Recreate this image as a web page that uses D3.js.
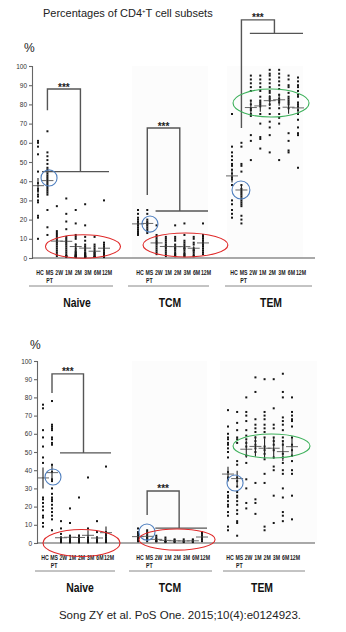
<!DOCTYPE html>
<html>
<head>
<meta charset="utf-8">
<script src="https://cdn.jsdelivr.net/npm/d3@7"></script>
<style>
  body { margin: 0; background: #fff; }
  svg { display: block; }
  text { font-family: "Liberation Sans", Arial, sans-serif; }
</style>
</head>
<body>
<svg width="346" height="632"></svg>
<script>
var groups = ["HC", "MS", "2W", "1M", "2M", "3M", "6M", "12M"];
var subsets = ["Naive", "TCM", "TEM"];
var yTicks = [0, 10, 20, 30, 40, 50, 60, 70, 80, 90, 100];

// cohort 1 (upper plot), % of CD4+ T cells, one array per group
var naiveA = [
  [61, 60, 58, 54, 45, 39, 36, 35, 33, 32, 30, 29, 22, 21, 10],
  [66, 55, 53, 51, 49, 47, 46, 45, 44, 43, 42, 41, 40, 39, 38, 37, 36, 35, 34, 33, 25, 16, 12],
  [27, 14, 13, 12, 11, 10, 9, 8, 7, 6, 5, 4, 3, 2, 1],
  [31, 23, 19, 15, 11, 10, 9, 8, 7, 6, 5, 4, 3, 2, 1, 1, 1, 0.5],
  [25, 18, 12, 11, 10, 7, 5, 4, 3, 3, 2, 2, 1.5, 1, 1, 1, 0.5, 0.5],
  [28, 17, 11, 9, 7, 6, 5, 4, 3, 2, 2, 1, 1, 0.5, 0.5, 1, 0.5, 1.5, 2.5, 0.5],
  [11, 7, 6, 5, 4, 3, 3, 2, 2, 1, 1, 0.5, 0.5],
  [30, 8, 7, 6, 5, 4, 3, 2, 2, 1, 1, 0.5, 0.5, 1.5]
];
var tcmA = [
  [25, 23, 21, 20, 19, 18, 18, 17, 16, 15, 14, 13, 12],
  [25, 23, 20, 19, 18, 18, 17, 16, 15, 14, 13],
  [17, 12, 11, 10, 9, 8, 8, 7, 6, 5, 4, 3, 2],
  [11, 10, 9, 8, 7, 6, 6, 5, 4, 3, 2, 1],
  [17, 11, 10, 9, 7, 6, 5, 5, 4, 3, 2, 2, 1, 1],
  [18, 12, 9, 8, 7, 6, 5, 5, 4, 3, 2, 2, 1, 1],
  [11, 10, 8, 7, 5, 4, 4, 3, 2, 1, 1],
  [18, 12, 11, 10, 9, 8, 7, 7, 6, 5, 4, 3, 2]
];
var temA = [
  [75, 58, 55, 53, 51, 49, 48, 46, 44, 42, 41, 38, 30, 28, 25, 23, 21],
  [60, 58, 49, 48, 45, 38, 36, 35, 34, 33, 32, 31, 30, 29, 28, 27, 22, 20, 18],
  [95, 93, 91, 89, 87, 82, 80, 78, 77, 75, 74, 64, 61, 51],
  [95, 93, 91, 89, 87, 84, 82, 81, 80, 79, 75, 70, 63, 62, 57],
  [98, 96, 95, 93, 91, 89, 87, 86, 84, 83, 82, 80, 78, 75, 71, 68, 64, 55],
  [98, 96, 94, 92, 90, 88, 85, 83, 82, 81, 78, 75, 73, 70, 51],
  [95, 93, 90, 89, 86, 84, 83, 82, 81, 80, 78, 65, 61, 56, 55],
  [94, 92, 90, 89, 87, 85, 84, 81, 80, 79, 77, 75, 72, 68, 65, 64, 47]
];

// cohort 2 (lower plot)
var naiveB = [
  [76, 74, 62, 58, 53, 47, 44, 25, 24, 22, 20, 18, 15, 14, 11, 9],
  [78, 65, 64, 63, 62, 58, 57, 55, 54, 43, 39, 35, 34, 30, 27, 25, 24, 23, 21, 19, 17, 15, 13, 7],
  [12, 8, 5, 3, 2, 2, 1, 1, 1, 1, 0.5, 0.5, 0.5],
  [19, 11, 4, 3, 2, 2, 1, 1, 1, 1, 0.5, 0.5, 0.5, 0.5, 0.5],
  [25, 4, 3, 2, 2, 1, 1, 1, 1, 0.5, 0.5, 0.5, 0.5, 0.5],
  [36, 8, 3, 2, 1, 1, 1, 0.5, 0.5, 0.5, 0.5, 0.5, 0.5],
  [12, 6, 3, 2, 1, 1, 1, 0.5, 0.5, 0.5],
  [42, 6, 5, 4, 3, 2, 2, 1, 1, 1, 0.5, 0.5]
];
var tcmB = [
  [8, 6, 5, 4, 3, 3, 2, 2, 1, 1],
  [7, 6, 5, 4, 3, 3, 2, 2, 1],
  [4, 3, 2, 2, 1, 1, 1],
  [3, 2, 1, 1, 1, 0.5],
  [2, 1.5, 1, 1, 0.5],
  [2, 1, 1, 0.5],
  [2, 1.5, 1, 1, 0.5],
  [6, 5, 4, 3, 2, 2, 1]
];
var temB = [
  [73, 64, 60, 58, 57, 55, 54, 52, 50, 47, 39, 36, 35, 28, 26, 25, 23, 21, 20, 17, 15, 9, 7],
  [72, 66, 62, 58, 57, 55, 45, 43, 36, 34, 31, 28, 26, 25, 23, 21, 18, 16, 12, 11, 4],
  [80, 72, 70, 67, 62, 59, 57, 55, 53, 48, 44, 35, 30, 22, 19],
  [91, 83, 68, 65, 63, 61, 58, 56, 54, 52, 50, 33, 24, 22, 16],
  [90, 72, 70, 68, 65, 63, 61, 58, 53, 51, 49, 46, 38, 33, 9, 7],
  [90, 74, 65, 63, 58, 56, 54, 51, 47, 42, 40, 26, 11],
  [93, 83, 80, 69, 67, 65, 62, 58, 56, 54, 49, 47, 44, 40, 38, 30, 25, 17, 15, 12],
  [80, 72, 70, 68, 67, 64, 58, 54, 51, 48, 45, 40, 38, 26, 13]
];

// significance brackets: top of bracket, end of MS drop, level of the patient bar
var bracketsA = [
  { top: 88, drop: 77, base: 45, from: "HC" },
  { top: 67.7, drop: 32.8, base: 24.5, from: "2W" },
  { top: 124, drop: 67.7, base: 117, from: "2W" }
];
var bracketsB = [
  { top: 92.9, drop: 82.4, base: 49.5, from: "2W" },
  { top: 28.6, drop: 15.4, base: 8.2, from: "2W" },
  null
];

// highlight rings: centre as group index / value, radii in index / value units
var ringsA = [
  [{ i: 1.17, v: 41.7, ri: 0.85, rv: 4.2, c: "#4f7fbf" }, { i: 4.77, v: 6, ri: 3.98, rv: 6.1, c: "#e02a2a" }],
  [{ i: 1.29, v: 17.7, ri: 0.86, rv: 4.2, c: "#4f7fbf" }, { i: 5.11, v: 6.8, ri: 4.57, rv: 6.25, c: "#e02a2a" }],
  [{ i: 0.95, v: 35.4, ri: 0.95, rv: 4.7, c: "#4f7fbf" }, { i: 4.14, v: 80.7, ri: 4.03, rv: 7.3, c: "#3cb05a" }]
];
var ringsB = [
  [{ i: 1.11, v: 36.3, ri: 0.89, rv: 4.4, c: "#4f7fbf" }, { i: 4.28, v: 0, ri: 4.28, rv: 7.4, c: "#e02a2a" }],
  [{ i: 0.98, v: 6, ri: 0.88, rv: 4.4, c: "#4f7fbf" }, { i: 4.27, v: 1.9, ri: 4.16, rv: 5.8, c: "#e02a2a" }],
  [{ i: 0.77, v: 33, ri: 0.88, rv: 4.4, c: "#4f7fbf" }, { i: 4.76, v: 53.3, ri: 4.21, rv: 6.6, c: "#3cb05a" }]
];

var svg = d3.select("svg");
svg.append("rect").attr("width", 346).attr("height", 632).attr("fill", "#fff");

// bold text squeezed horizontally, like the condensed labels of the figure
function narrow(sel, x, y, size, str) {
  return sel.append("text")
    .attr("transform", "translate(" + x + "," + y + ") scale(0.8,1)")
    .attr("text-anchor", "middle").attr("font-weight", "bold")
    .attr("font-size", size).attr("fill", "#1a1a1a").text(str);
}

svg.append("text")
  .attr("x", 43).attr("y", 17)
  .attr("font-size", 11).attr("fill", "#222")
  .text("Percentages of CD4")
  .append("tspan").attr("font-size", 6).attr("dy", -4).text("+")
  .select(function() { return this.parentNode; })
  .append("tspan").attr("dy", 4).text("T cell subsets");

var layoutA = {
  y0: 258, y1: 66, axisX: 32, pct: [24, 52],
  cols: [[38, 104], [138, 203], [232, 298]],
  shade: [[132, 208], [227, 303]],
  under: [[29, 113], [128, 209], [225, 312]], underY: 286,
  catY: 275, ptY: 283, nameX: [77, 170, 271], nameY: 307
};
var layoutB = {
  y0: 543, y1: 361, axisX: 37, pct: [30, 349],
  cols: [[43, 106], [138, 202], [228, 292]],
  shade: [[132, 207], [220, 317]],
  under: [[35, 115], [129, 212], [223, 305]], underY: 571,
  catY: 560, ptY: 568, nameX: [80, 170, 262], nameY: 592
};

function drawPlot(L, sets, brackets, rings) {
  var y = d3.scaleLinear().domain([0, 100]).range([L.y0, L.y1]);
  var g = svg.append("g");

  // very faint plot-area backgrounds behind TCM and TEM
  L.shade.forEach(function(s) {
    g.append("rect").attr("x", s[0]).attr("y", L.y1).attr("width", s[1] - s[0])
      .attr("height", L.y0 - L.y1).attr("fill", "#fcfcfc");
  });

  g.append("text").attr("x", L.pct[0]).attr("y", L.pct[1])
    .attr("font-size", 12).attr("fill", "#222").text("%");

  var ax = g.append("g").attr("transform", "translate(" + L.axisX + ",0)")
    .call(d3.axisLeft(y).tickValues(yTicks).tickSize(3).tickPadding(2));
  ax.selectAll("path, line").attr("stroke", "#666").attr("stroke-width", 1.1);
  ax.selectAll("text").attr("font-size", 6.5).attr("fill", "#333")
    .attr("font-family", "Liberation Sans, Arial, sans-serif");

  g.append("line").attr("x1", L.axisX).attr("x2", 315)
    .attr("y1", L.y0).attr("y2", L.y0).attr("stroke", "#555").attr("stroke-width", 1.2);

  sets.forEach(function(set, k) {
    var x = d3.scaleLinear().domain([0, groups.length - 1]).range(L.cols[k]);
    var pg = g.append("g");

    set.forEach(function(vals, i) {
      pg.append("g").selectAll("rect").data(vals).enter().append("rect")
        .attr("x", x(i) - 1).attr("y", function(d) { return y(d) - 1; })
        .attr("width", 2).attr("height", 2).attr("fill", "#151515");
      // mean with SEM
      var m = d3.mean(vals);
      var sem = d3.deviation(vals) / Math.sqrt(vals.length);
      pg.append("line").attr("x1", x(i) - 6).attr("x2", x(i) + 6)
        .attr("y1", y(m)).attr("y2", y(m)).attr("stroke", "#666").attr("stroke-width", 1);
      pg.append("line").attr("x1", x(i)).attr("x2", x(i))
        .attr("y1", y(m - sem)).attr("y2", y(m + sem)).attr("stroke", "#222").attr("stroke-width", 1.1);
    });

    // category labels under each subset
    var xp = d3.scalePoint().domain(groups).range([L.cols[k][0] + 2, L.cols[k][1] + 3]);
    groups.forEach(function(grp) { narrow(pg, xp(grp), L.catY, 6.5, grp); });
    narrow(pg, xp("MS"), L.ptY, 6.5, "PT");
    pg.append("line").attr("x1", L.under[k][0]).attr("x2", L.under[k][1])
      .attr("y1", L.underY).attr("y2", L.underY).attr("stroke", "#888").attr("stroke-width", 1);
    narrow(pg, L.nameX[k], L.nameY, 13, subsets[k]).attr("fill", "#111");

    var b = brackets[k];
    if (b) {
      var xl = x(groups.indexOf("MS"));
      var xr = (x(groups.indexOf("2W")) + x(groups.length - 1)) / 2;
      var xs = x(groups.indexOf(b.from)) + (b.from === "HC" ? 4 : -1);
      var xe = x(groups.length - 1) + 5;
      var path = d3.path();
      path.moveTo(xl, y(b.drop)); path.lineTo(xl, y(b.top));
      path.lineTo(xr, y(b.top)); path.lineTo(xr, y(b.base));
      path.moveTo(xs, y(b.base)); path.lineTo(xe, y(b.base));
      pg.append("path").attr("d", path.toString()).attr("fill", "none")
        .attr("stroke", "#555").attr("stroke-width", 1.4);
      pg.append("text").attr("x", (xl + xr) / 2).attr("y", y(b.top) + 1.5)
        .attr("text-anchor", "middle").attr("font-size", 10).attr("font-weight", "bold")
        .attr("fill", "#222").text("***");
    }

    pg.selectAll("ellipse").data(rings[k]).enter().append("ellipse")
      .attr("cx", function(r) { return x(r.i); })
      .attr("cy", function(r) { return y(r.v); })
      .attr("rx", function(r) { return x(r.ri) - x(0); })
      .attr("ry", function(r) { return y(0) - y(r.rv); })
      .attr("fill", "none").attr("stroke", function(r) { return r.c; }).attr("stroke-width", 1.1);
  });
}

drawPlot(layoutA, [naiveA, tcmA, temA], bracketsA, ringsA);
drawPlot(layoutB, [naiveB, tcmB, temB], bracketsB, ringsB);

svg.append("text")
  .attr("x", 180).attr("y", 619).attr("text-anchor", "middle")
  .attr("font-family", "Open Sans, Noto Sans, sans-serif")
  .attr("font-size", 11.5).attr("fill", "#222")
  .text("Song ZY et al. PoS One. 2015;10(4):e0124923.");
</script>
</body>
</html>
